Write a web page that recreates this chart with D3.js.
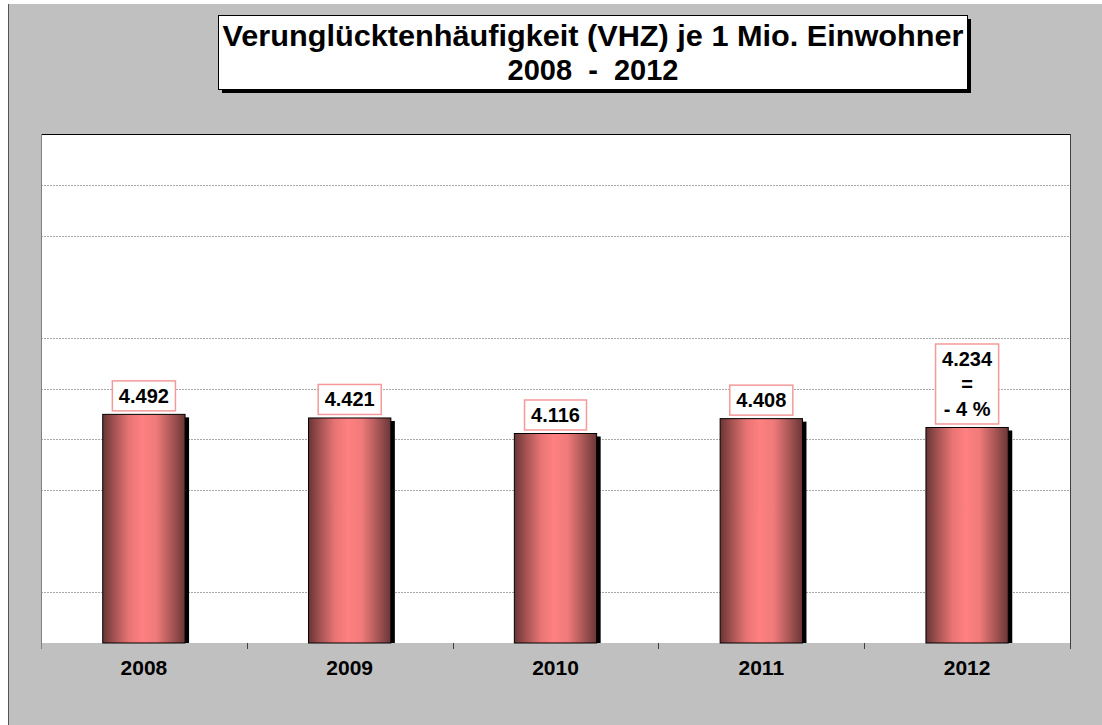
<!DOCTYPE html>
<html><head><meta charset="utf-8">
<script src="https://cdn.jsdelivr.net/npm/d3@7"></script>
<style>html,body{margin:0;padding:0;background:#fff;}svg{display:block;}</style>
</head><body>
<script>
const years = ["2008", "2009", "2010", "2011", "2012"];
const values = [4492, 4421, 4116, 4408, 4234];
const extraLines = [[], [], [], [], ["=", "- 4 %"]];
const gridValues = [1000, 3000, 4000, 5000, 6000, 8000, 9000];
const titleLines = ["Verunglücktenhäufigkeit (VHZ) je 1 Mio. Einwohner", "2008  -  2012"];

const W = 1102, H = 725;
const svg = d3.select("body").append("svg").attr("width", W).attr("height", H);
const font = "'Liberation Sans', Arial, sans-serif";

// outer gray area
svg.append("rect").attr("x", 8).attr("y", 4).attr("width", W - 8).attr("height", H - 4).attr("fill", "#c0c0c0");
svg.append("line").attr("x1", 8.5).attr("x2", 8.5).attr("y1", 4).attr("y2", H).attr("stroke", "#555").attr("stroke-width", 1);

const plot = {x0: 41, x1: 1070, y0: 134, y1: 643};
const x = d3.scaleBand().domain(years).range([plot.x0, plot.x1]).paddingInner(0).paddingOuter(0);
const y = d3.scaleLinear().domain([0, 10000]).range([plot.y1, plot.y0]);

// plot area
svg.append("rect").attr("x", plot.x0).attr("y", plot.y0).attr("width", plot.x1 - plot.x0).attr("height", plot.y1 - plot.y0).attr("fill", "#fff");

// gridlines
svg.append("g").selectAll("line").data(gridValues).join("line")
  .attr("x1", plot.x0).attr("x2", plot.x1)
  .attr("y1", d => Math.round(y(d)) + 0.5).attr("y2", d => Math.round(y(d)) + 0.5)
  .attr("stroke", "#a8a8a8").attr("stroke-width", 1).attr("stroke-dasharray", "2,1");

// borders
svg.append("line").attr("x1", plot.x0).attr("x2", plot.x1 + 1).attr("y1", plot.y0 + 0.5).attr("y2", plot.y0 + 0.5).attr("stroke", "#000");
svg.append("line").attr("x1", plot.x0 + 0.5).attr("x2", plot.x0 + 0.5).attr("y1", plot.y0).attr("y2", plot.y1 + 6).attr("stroke", "#808080");
svg.append("line").attr("x1", plot.x1 + 0.5).attr("x2", plot.x1 + 0.5).attr("y1", plot.y0).attr("y2", plot.y1 + 6).attr("stroke", "#404040");

// ticks at category boundaries
const bounds = years.map(d => x(d)).concat([plot.x1]);
svg.append("g").selectAll("line").data(bounds.slice(1, -1)).join("line")
  .attr("x1", d => Math.round(d) + 0.5).attr("x2", d => Math.round(d) + 0.5)
  .attr("y1", plot.y1).attr("y2", plot.y1 + 6).attr("stroke", "#404040");

// gradient
const defs = svg.append("defs");
const grad = defs.append("linearGradient").attr("id", "barGrad").attr("x1", "0%").attr("x2", "100%").attr("y1", "0%").attr("y2", "0%");
[[0, "#6a3434"], [0.15, "#a85454"], [0.32, "#e87474"], [0.48, "#ff8080"], [0.65, "#f07a7a"], [0.82, "#b05a5a"], [1, "#6a3636"]]
  .forEach(([o, c]) => grad.append("stop").attr("offset", o).attr("stop-color", c));

const barW = x.bandwidth() * 0.40;
const cx = d => x(d) + x.bandwidth() / 2;
const clip = defs.append("clipPath").attr("id", "plotClip");
clip.append("rect").attr("x", plot.x0).attr("y", plot.y0).attr("width", plot.x1 - plot.x0).attr("height", plot.y1 - plot.y0);

const bars = svg.append("g");
// shadows
bars.append("g").attr("clip-path", "url(#plotClip)").selectAll("rect").data(years).join("rect")
  .attr("x", (d) => cx(d) - barW / 2 + 4).attr("y", (d, i) => y(values[i]) + 3)
  .attr("width", barW).attr("height", (d, i) => plot.y1 - y(values[i]))
  .attr("fill", "#000");
bars.append("g").selectAll("rect").data(years).join("rect")
  .attr("x", (d) => cx(d) - barW / 2).attr("y", (d, i) => y(values[i]))
  .attr("width", barW).attr("height", (d, i) => plot.y1 - y(values[i]))
  .attr("fill", "url(#barGrad)").attr("stroke", "#000").attr("stroke-width", 1);

// value labels
const fmt = v => d3.format(",")(v).replace(/,/g, ".");
const labG = svg.append("g");
years.forEach((yr, i) => {
  const lines = [fmt(values[i])].concat(extraLines[i]);
  const bottom = y(values[i]) - 3.5;
  const lh = 25;
  const boxH = 30 + (lines.length - 1) * lh;
  const top = bottom - boxH;
  const g = labG.append("g");
  const rect = g.append("rect");
  const texts = g.selectAll("text").data(lines).join("text")
    .attr("x", cx(yr)).attr("y", (d, j) => top + 22 + j * lh)
    .attr("text-anchor", "middle").attr("font-family", font).attr("font-weight", "bold")
    .attr("font-size", 20).attr("fill", "#000").text(d => d);
  let maxW = 0;
  texts.each(function () { maxW = Math.max(maxW, this.getComputedTextLength()); });
  const bw = maxW + 13;
  rect.attr("x", cx(yr) - bw / 2).attr("y", top).attr("width", bw).attr("height", boxH)
    .attr("fill", "#fff").attr("stroke", "#f49a9a").attr("stroke-width", 1.5);
});

// category labels
svg.append("g").selectAll("text").data(years).join("text")
  .attr("x", d => cx(d)).attr("y", 675).attr("text-anchor", "middle")
  .attr("font-family", font).attr("font-weight", "bold").attr("font-size", 21).attr("fill", "#000")
  .text(d => d);

// title
const tb = {x: 218, y: 15, w: 749, h: 74};
svg.append("rect").attr("x", tb.x + 4).attr("y", tb.y + 4).attr("width", tb.w).attr("height", tb.h).attr("fill", "#000");
svg.append("rect").attr("x", tb.x + 0.5).attr("y", tb.y + 0.5).attr("width", tb.w).attr("height", tb.h).attr("fill", "#fff").attr("stroke", "#000").attr("stroke-width", 1);
svg.append("g").selectAll("text").data(titleLines).join("text")
  .attr("x", tb.x + tb.w / 2 + 0.5).attr("y", (d, i) => 46 + i * 34)
  .attr("text-anchor", "middle").attr("font-family", font).attr("font-weight", "bold")
  .attr("font-size", 29).attr("fill", "#000")
  .attr("textLength", (d, i) => i === 0 ? 741 : null)
  .attr("lengthAdjust", "spacingAndGlyphs")
  .style("white-space", "pre")
  .text(d => d);
</script>
</body></html>
